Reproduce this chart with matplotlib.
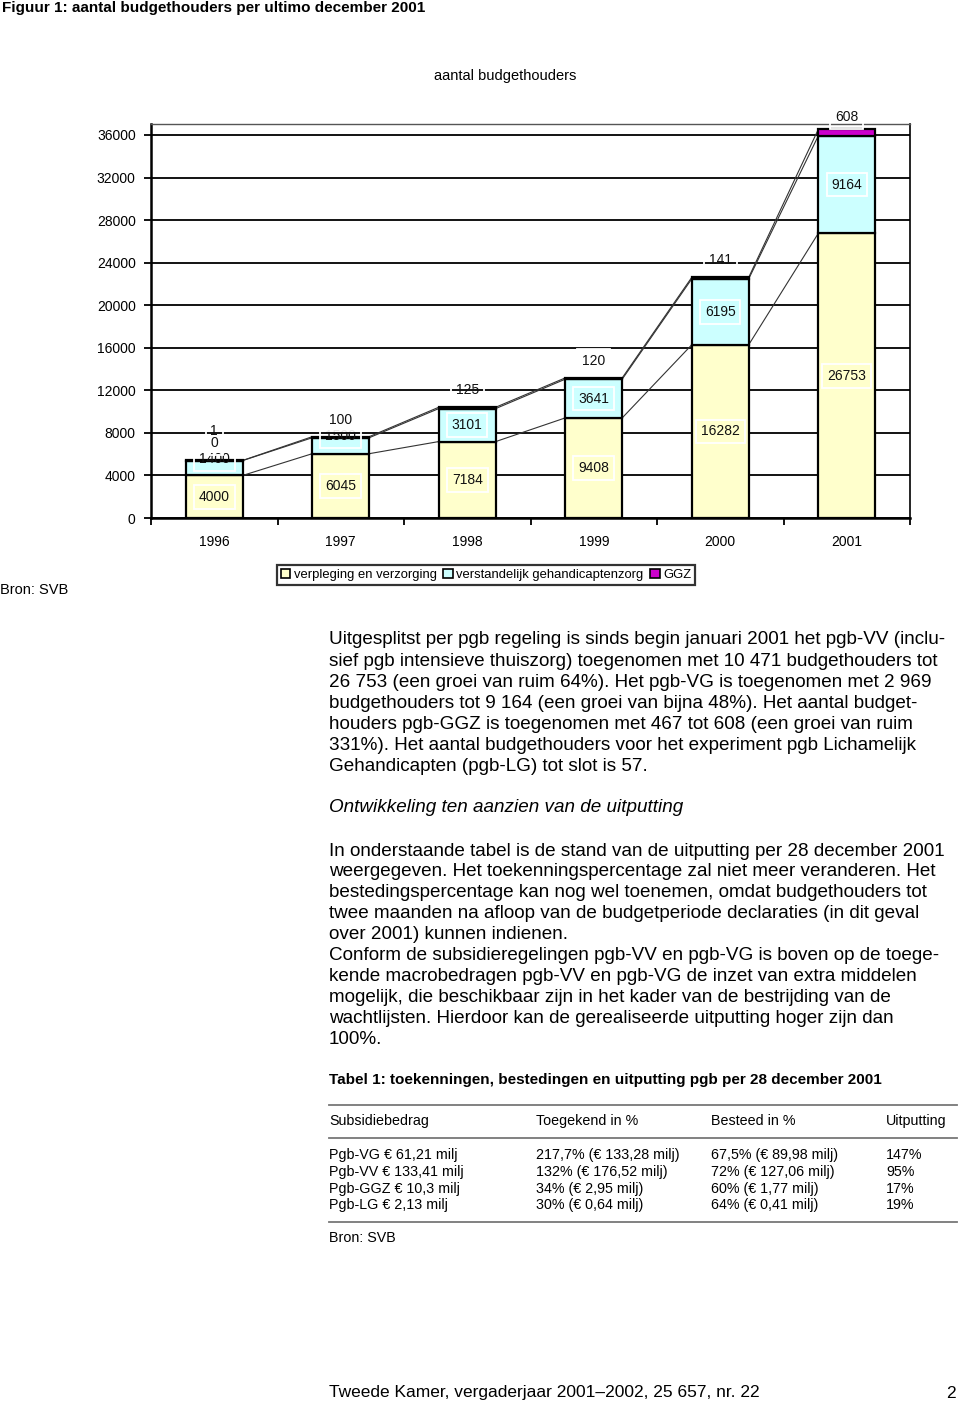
import numpy as np
import matplotlib
matplotlib.use("Agg")
import matplotlib.pyplot as plt
from matplotlib.patches import Patch

plt.rcParams["font.family"] = ["Liberation Sans", "DejaVu Sans"]

# chart data
years = ["1996", "1997", "1998", "1999", "2000", "2001"]
vv = [4000, 6045, 7184, 9408, 16282, 26753]
vg = [1400, 1500, 3101, 3641, 6195, 9164]
ggz = [10, 100, 125, 120, 141, 608]
ggz_labels = ["1\n0", "100", "125", "120", "141", "608"]
series_names = ["verpleging en verzorging", "verstandelijk gehandicaptenzorg", "GGZ"]
colors = ["#FFFFCC", "#CCFFFF", "#CC00CC"]
yticks = np.arange(0, 36001, 4000)

# text of the page
para1 = [
    "Uitgesplitst per pgb regeling is sinds begin januari 2001 het pgb-VV (inclu-",
    "sief pgb intensieve thuiszorg) toegenomen met 10 471 budgethouders tot",
    "26 753 (een groei van ruim 64%). Het pgb-VG is toegenomen met 2 969",
    "budgethouders tot 9 164 (een groei van bijna 48%). Het aantal budget-",
    "houders pgb-GGZ is toegenomen met 467 tot 608 (een groei van ruim",
    "331%). Het aantal budgethouders voor het experiment pgb Lichamelijk",
    "Gehandicapten (pgb-LG) tot slot is 57.",
]
heading = "Ontwikkeling ten aanzien van de uitputting"
para2 = [
    "In onderstaande tabel is de stand van de uitputting per 28 december 2001",
    "weergegeven. Het toekenningspercentage zal niet meer veranderen. Het",
    "bestedingspercentage kan nog wel toenemen, omdat budgethouders tot",
    "twee maanden na afloop van de budgetperiode declaraties (in dit geval",
    "over 2001) kunnen indienen.",
    "Conform de subsidieregelingen pgb-VV en pgb-VG is boven op de toege-",
    "kende macrobedragen pgb-VV en pgb-VG de inzet van extra middelen",
    "mogelijk, die beschikbaar zijn in het kader van de bestrijding van de",
    "wachtlijsten. Hierdoor kan de gerealiseerde uitputting hoger zijn dan",
    "100%.",
]
table_title = "Tabel 1: toekenningen, bestedingen en uitputting pgb per 28 december 2001"
table_header = ["Subsidiebedrag", "Toegekend in %", "Besteed in %", "Uitputting"]
table_rows = [
    ["Pgb-VG \u20ac 61,21 milj", "217,7% (\u20ac 133,28 milj)", "67,5% (\u20ac 89,98 milj)", "147%"],
    ["Pgb-VV \u20ac 133,41 milj", "132% (\u20ac 176,52 milj)", "72% (\u20ac 127,06 milj)", "95%"],
    ["Pgb-GGZ \u20ac 10,3 milj", "34% (\u20ac 2,95 milj)", "60% (\u20ac 1,77 milj)", "17%"],
    ["Pgb-LG \u20ac 2,13 milj", "30% (\u20ac 0,64 milj)", "64% (\u20ac 0,41 milj)", "19%"],
]

W, H = 960, 1406
fig = plt.figure(figsize=(W / 100, H / 100), dpi=100)


def px(x, y):
    return x / W, 1 - y / H


def ftext(x, y, s, **kw):
    kw.setdefault("va", "center")
    kw.setdefault("ha", "left")
    fig.text(*px(x, y), s, **kw)


ax = fig.add_axes([151 / W, 1 - 518 / H, 759 / W, 394 / H])
x = np.arange(len(years))
w = 0.45
vv = np.array(vv)
vg = np.array(vg)
ggz = np.array(ggz)
levels = [vv, vv + vg, vv + vg + ggz]
bottoms = [np.zeros(len(x)), vv, vv + vg]

for vals, bot, c in zip([vv, vg, ggz], bottoms, colors):
    ax.bar(x, vals, w, bottom=bot, color=c, edgecolor="black", lw=1.6, zorder=3)

# series lines between bars
for lev in levels:
    for i in range(len(x) - 1):
        ax.plot([x[i] + w / 2, x[i + 1] - w / 2], [lev[i], lev[i + 1]],
                color="#333333", lw=0.8, zorder=2)

box = dict(boxstyle="square,pad=0.35", fc="none", ec="white", lw=1.3)
lab_kw = dict(ha="center", fontsize=10, color="#111111", zorder=5, bbox=box)
for i in x:
    ax.text(x[i], vv[i] / 2, str(vv[i]), va="center", **lab_kw)
    if vg[i] < 2000:
        ax.text(x[i], vv[i] + vg[i] + 150, str(vg[i]), va="center", **lab_kw)
    else:
        ax.text(x[i], vv[i] + vg[i] / 2, str(vg[i]), va="center", **lab_kw)
    top = levels[2][i]
    off = 500 if top > 30000 else 950
    ax.text(x[i], top + off, ggz_labels[i], va="bottom", linespacing=0.85,
            clip_on=False, **lab_kw)

ax.set_xlim(-0.5, len(x) - 0.5)
ax.set_ylim(0, 37030)
ax.set_yticks(yticks)
ax.set_yticklabels([str(v) for v in yticks], fontsize=10)
ax.yaxis.grid(True, color="black", lw=1.3, zorder=0)
ax.set_axisbelow(True)
ax.set_xticks(x)
ax.set_xticklabels(years, fontsize=10)
ax.set_xticks(np.arange(-0.5, len(x)), minor=True)
ax.tick_params(axis="x", which="major", length=0, pad=12)
ax.tick_params(axis="x", which="minor", length=5, width=1.3, direction="out")
ax.tick_params(axis="y", length=5, width=1.3, pad=6)
for s in ["left", "bottom"]:
    ax.spines[s].set_linewidth(1.8)
ax.spines["right"].set_linewidth(1.2)
ax.spines["top"].set_linewidth(1.0)
ax.spines["top"].set_color("#555555")

ftext(505, 76, "aantal budgethouders", ha="center", fontsize=10.5)
ftext(2, 8, "Figuur 1: aantal budgethouders per ultimo december 2001",
      fontsize=11, fontweight="bold")

handles = [Patch(facecolor=c, edgecolor="black", lw=1.2) for c in colors]
leg = fig.legend(handles, series_names, loc="center", bbox_to_anchor=px(486, 575),
                 ncol=3, fontsize=9.4, frameon=True, fancybox=False,
                 handlelength=0.75, handleheight=0.75, handletextpad=0.25,
                 columnspacing=0.5, borderpad=0.3, borderaxespad=0)
leg.get_frame().set_edgecolor("black")
leg.get_frame().set_linewidth(1.6)
ftext(0, 590, "Bron: SVB", fontsize=10.5)

for i, line in enumerate(para1):
    ftext(329, 640 + i * 21.1, line, fontsize=13.6)
ftext(329, 808, heading, fontsize=13.6, style="italic")
for i, line in enumerate(para2):
    ftext(329, 851 + i * 20.9, line, fontsize=13.6)

ftext(329, 1080, table_title, fontsize=11, fontweight="bold")
cols = [329, 536, 711, 886]
for yy in [1105, 1138, 1222]:
    fig.add_artist(plt.Line2D([329 / W, 957 / W], [1 - yy / H] * 2,
                              color="#777777", lw=1.3))
for cx, s in zip(cols, table_header):
    ftext(cx, 1121, s, fontsize=10.3)
for r, row in enumerate(table_rows):
    for cx, s in zip(cols, row):
        ftext(cx, 1155 + r * 16.8, s, fontsize=10.3)
ftext(329, 1238, "Bron: SVB", fontsize=10.3)

ftext(329, 1393, "Tweede Kamer, vergaderjaar 2001\u20132002, 25 657, nr. 22", fontsize=12.5)
ftext(956, 1393, "2", fontsize=12.5, ha="right")

fig.savefig("out.png", dpi=100)
